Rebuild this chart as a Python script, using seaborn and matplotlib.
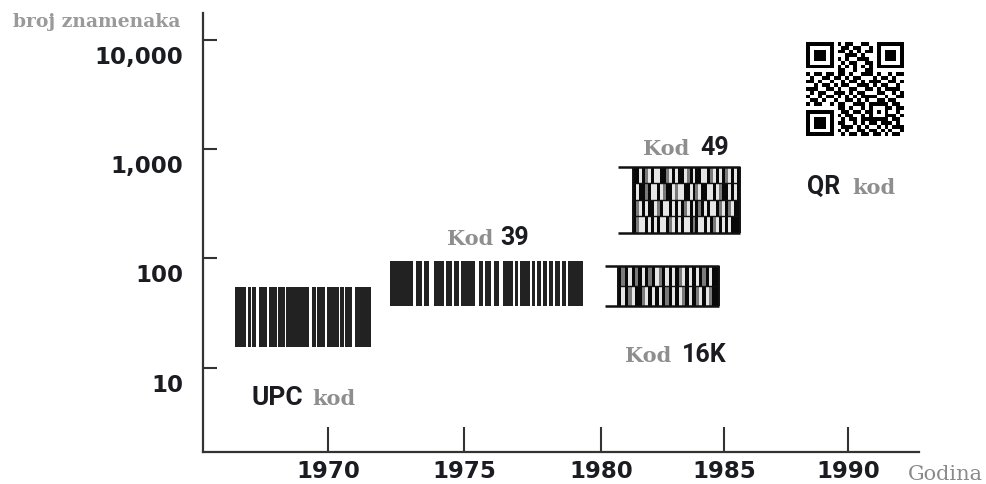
import numpy as np
import matplotlib
matplotlib.use("Agg")
import matplotlib.pyplot as plt
import matplotlib.transforms as mtransforms
import seaborn as sns

# ---------------- axis ticks ----------------
year_ticks = [1970, 1975, 1980, 1985, 1990]
year_labels = ["1970", "1975", "1980", "1985", "1990"]
digit_ticks = [10, 100, 1000, 10000]
digit_labels = ["10", "100", "1,000", "10,000"]
# relative drawn spacing between consecutive year ticks (the original axis is unevenly drawn)
year_tick_gaps = [136, 137, 123, 124]

# ---------------- barcode symbologies ----------------
code_names = ["UPC", "Kod 39", "Kod 16K", "Kod 49", "QR"]
code_start = [1966.56, 1972.28, 1980.69, 1981.30, 1988.31]   # year span start
code_end = [1971.57, 1979.34, 1984.80, 1985.65, 1992.26]     # year span end
code_low = [15.4, 36.6, 36.9, 171, 1315]                      # digits (low)
code_high = [54.6, 94.5, 85.7, 689, 9530]                     # digits (high)
guide_start = {"Kod 16K": 1980.16, "Kod 49": 1980.69}         # left end of the guard lines

# bar / space module widths (alternating, starting with a bar)
upc_pattern = [34, 5, 10, 4, 11, 9, 24, 5, 25, 4, 19, 5, 68, 8, 12, 4, 24, 5, 37, 5, 10, 5, 19, 9, 48]
code39_pattern = [70, 9, 18, 6, 14, 15, 30, 6, 19, 7, 13, 6, 44, 10, 13, 6, 18, 8, 17, 11, 29, 6,
                  8, 6, 32, 6, 7, 8, 10, 8, 10, 6, 13, 6, 14, 6, 12, 7, 45]

# stacked codes: '#' dark, '+' grey, '.' light
code49_rows = [
    "##.#+." "#..##+" ".#.##." "+#.##." ".#+.#." "#+.#.#",
    "#.##+#" "..#.+#" "#.+..#" "#.#+.#" "#..#.+" "##.#.#",
    "#+.#.#" "#.+#.." "#.#.#+" ".#.#+#" ".#..#+" ".#+.##",
    "#+..#." "#.#..#" "+.#.#." ".#+#.." "#.#+.#" ".#.###",
]
code16k_rows = [
    "#+#.#+" "#.#+#." "+#.#.#" "+.#.#." "#+#.##",
    "#.#+.#" "#+.#.#" ".#+#.#" ".+#.#+" ".#.+##",
]
qr_rows = [
    "1111111" "0" "101100110" "0" "1111111",
    "1000001" "0" "011011001" "0" "1000001",
    "1011101" "0" "110101011" "0" "1011101",
    "1011101" "0" "001110100" "0" "1011101",
    "1011101" "0" "101001110" "0" "1011101",
    "1000001" "0" "010110011" "0" "1000001",
    "1111111" "0" "101010101" "0" "1111111",
    "00000000" "110010011" "00000000",
    "101101" "1" "011010011101001011",
    "010011" "0" "110101100010110100",
    "110100" "1" "001011010111001101",
    "001011" "0" "101100111010110010",
    "111001" "1" "010011001101011110",
    "010110" "0" "111010110001100101",
    "100101" "1" "010101011110010011",
    "011010" "0" "100110101001101100",
    "101100" "1" "011001110" "11111" "0110",
    "00000000" "11010010" "10001" "1011",
    "1111111" "0" "01101101" "10101" "0010",
    "1000001" "0" "10110010" "10001" "1101",
    "1011101" "0" "01011011" "11111" "0110",
    "1011101" "0" "11001010110111010",
    "1011101" "0" "01110101001010111",
    "1000001" "0" "10100110110101001",
    "1111111" "0" "01011011011010110",
]
shade = {"#": 0.97, "+": 0.6, ".": 0.18, "1": 1.0, "0": 0.0}

# ---------------- style ----------------
sns.set_theme(style="white")
plt.rcParams["font.family"] = ["DejaVu Sans"]
DARK = "#1b1b22"
GREY = "#8e8e8e"
BAR = "#222222"

W, H = 987, 485
fig = plt.figure(figsize=(W / 100, H / 100), dpi=100)
ax = fig.add_axes([203 / W, 1 - 453 / H, (919 - 203) / W, (453 - 14) / H])

# piecewise-linear year scale reproducing the drawn tick spacing
pos = np.concatenate([[0.0], np.cumsum(year_tick_gaps)])
knot_years = np.concatenate([[1900.0], year_ticks, [2100.0]])
knot_pos = np.concatenate([[pos[0] - 70 * year_tick_gaps[0] / 5], pos,
                           [pos[-1] + 110 * year_tick_gaps[-1] / 5]])


def fwd(x):
    return np.interp(x, knot_years, knot_pos)


def inv(p):
    return np.interp(p, knot_pos, knot_years)


ax.set_xscale("function", functions=(fwd, inv))
ax.set_yscale("log")


def draw_linear(name, pattern):
    i = code_names.index(name)
    w = np.array(pattern, float)
    span = code_end[i] - code_start[i]
    edges = np.concatenate([[0.0], np.cumsum(w)]) / w.sum()
    lefts = code_start[i] + edges[:-1] * span
    widths = w / w.sum() * span
    ax.bar(lefts[::2], code_high[i] - code_low[i], width=widths[::2], bottom=code_low[i],
           align="edge", color=BAR, linewidth=0)


def draw_stacked(name, rows):
    i = code_names.index(name)
    Z = np.array([[shade[c] for c in r] for r in rows])[::-1]
    xe = np.linspace(code_start[i], code_end[i], Z.shape[1] + 1)
    ye = np.geomspace(code_low[i], code_high[i], Z.shape[0] + 1)
    ax.pcolormesh(xe, ye, Z, cmap="Greys", vmin=0, vmax=1, shading="flat")
    ax.hlines([code_low[i], code_high[i]], guide_start[name], code_end[i], color="#111111", lw=1.8)
    ax.hlines(ye[1:-1], code_start[i], code_end[i], color="#111111", lw=1.0)
    ax.vlines([code_start[i], code_end[i]], code_low[i], code_high[i], color="#111111", lw=1.4)


def draw_matrix(name, rows):
    i = code_names.index(name)
    Z = np.array([[shade[c] for c in r] for r in rows])[::-1]
    xe = np.linspace(code_start[i], code_end[i], Z.shape[1] + 1)
    ye = np.geomspace(code_low[i], code_high[i], Z.shape[0] + 1)
    ax.pcolormesh(xe, ye, Z, cmap="Greys", vmin=0, vmax=0.95, shading="flat")


draw_linear("UPC", upc_pattern)
draw_linear("Kod 39", code39_pattern)
draw_stacked("Kod 49", code49_rows)
draw_stacked("Kod 16K", code16k_rows)
draw_matrix("QR", qr_rows)

# ---------------- axes ----------------
ax.set_xlim(1965.40, 1992.86)
ax.set_ylim(1.70, 17560)
ax.set_xticks(year_ticks)
ax.set_xticklabels(year_labels)
ax.set_yticks(digit_ticks)
ax.set_yticklabels(digit_labels)
ax.yaxis.set_minor_locator(matplotlib.ticker.NullLocator())
ax.grid(False)
sns.despine(ax=ax)
for s in ("left", "bottom"):
    ax.spines[s].set_color("#333333")
    ax.spines[s].set_linewidth(1.6)
ax.set_facecolor("white")

ax.tick_params(axis="x", bottom=True, direction="in", length=18, width=1.5, color="#333333", pad=5,
               labelsize=16.5, labelcolor=DARK)
ax.tick_params(axis="y", left=True, direction="in", length=10, width=1.5, color="#333333", pad=14,
               labelsize=16.5, labelcolor=DARK)
for lab in ax.get_xticklabels() + ax.get_yticklabels():
    lab.set_fontweight("bold")
offset = mtransforms.ScaledTranslation(0, -0.14, fig.dpi_scale_trans)
for t in ax.yaxis.get_major_ticks():
    t.label1.set_transform(t.label1.get_transform() + offset)

# ---------------- text ----------------
serif = dict(family="DejaVu Serif", weight="bold", color=GREY)
sans = dict(family="Roboto", weight="bold", color=DARK)


def ftext(x, y, s, size, style, **kw):
    fig.text(x / W, 1 - y / H, s, fontsize=size, ha="left", va="baseline", **style, **kw)


ftext(13, 27, "broj znamenaka", 13.5, dict(family="DejaVu Serif", weight="bold", color="#9a9a9a"))
ftext(908, 480, "Godina", 15, dict(family="DejaVu Serif", weight="normal", color="#8a8a8a"))

ftext(252, 405, "UPC", 19, sans)
ftext(312, 405, "kod", 15, serif)
ftext(447, 245, "Kod", 15, serif)
ftext(500, 245, "39", 18, sans)
ftext(643, 155, "Kod", 15, serif)
ftext(700, 155, "49", 18, sans)
ftext(625, 362, "Kod", 15, serif)
ftext(682, 362, "16K", 18, sans)
ftext(807, 194, "QR", 18, sans)
ftext(852, 194, "kod", 15, serif)

fig.savefig("out.png", dpi=100, facecolor="white")
